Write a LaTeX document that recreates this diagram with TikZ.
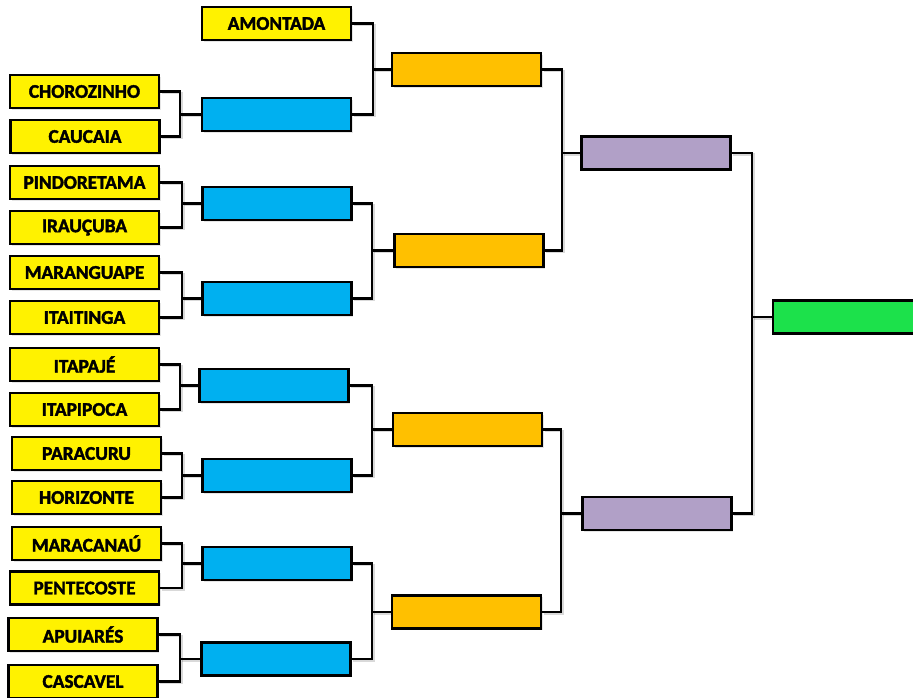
\documentclass[tikz,border=0pt]{standalone}
\usepackage{fontspec}
\setmainfont{Carlito}
\newfontfamily\heavy[BoldFeatures={FakeBold=2}]{Carlito}
\usetikzlibrary{shadows}
\newcommand\mybracket[4]{%
  \coordinate (fk) at (#4,0);
  \draw[connshadow] (#1.east) -- (#1.east -| fk) |- (#2.east);
  \draw[connshadow] (#3.west -| fk) -- (#3.west);
  \draw[conn] (#1.east) -- (#1.east -| fk) |- (#2.east);
  \draw[conn] (#3.west -| fk) -- (#3.west);
}
\begin{document}
\begin{tikzpicture}[x=1pt,y=-1pt,
  box/.style={draw=black, line width=2.2pt, minimum width=149pt, minimum height=33pt, inner sep=0pt,
    font=\heavy\fontsize{19.3}{21}\selectfont\bfseries,
    drop shadow={shadow xshift=1.5pt, shadow yshift=-1.5pt, opacity=0.2}},
  team/.style={box, fill=yellow},
  r1/.style={box, fill={rgb,255:red,0;green,176;blue,240}},
  r2/.style={box, fill={rgb,255:red,255;green,192;blue,0}},
  r3/.style={box, fill={rgb,255:red,177;green,160;blue,199}},
  r4/.style={box, fill={rgb,255:red,28;green,225;blue,75}, minimum width=160pt},
  conn/.style={draw=black, line width=2.2pt},
  connshadow/.style={draw=black, opacity=0.15, line width=2.2pt, transform canvas={xshift=1.5pt, yshift=-1.5pt}}
]
\clip (0,0) rectangle (913,697);
\useasboundingbox (0,0) rectangle (913,697);
\fill[white] (0,0) rectangle (913,697);

% teams
\node[team] (amontada) at (276.5,23.5) {AMONTADA};
\node[team] (choro) at (84.5,91.5) {CHOROZINHO};
\node[team] (caucaia) at (85,136.5) {CAUCAIA};
\node[team] (pind) at (84.5,182.5) {PINDORETAMA};
\node[team] (irau) at (84.5,227.5) {IRAUÇUBA};
\node[team] (marang) at (84.5,272.5) {MARANGUAPE};
\node[team] (itait) at (84.5,317.5) {ITAITINGA};
\node[team] (itapaje) at (84.5,364.5) {ITAPAJÉ};
\node[team] (itapip) at (84.5,409.5) {ITAPIPOCA};
\node[team] (paracuru) at (86.5,453.5) {PARACURU};
\node[team] (horiz) at (86.5,497.5) {HORIZONTE};
\node[team] (marac) at (86.5,543.5) {MARACANAÚ};
\node[team] (pent) at (84.5,588) {PENTECOSTE};
\node[team] (apu) at (83,634.5) {APUIARÉS};
\node[team] (casc) at (83,681.5) {CASCAVEL};

% round 1
\node[r1] (b1) at (276.5,114.5) {};
\node[r1] (b2) at (277,203.5) {};
\node[r1] (b3) at (277,298.5) {};
\node[r1] (b4) at (274,385.5) {};
\node[r1] (b5) at (277,475.5) {};
\node[r1] (b6) at (277,563.5) {};
\node[r1] (b7) at (276,659) {};

% round 2
\node[r2] (o1) at (466.5,69.5) {};
\node[r2] (o2) at (469,250.5) {};
\node[r2] (o3) at (467.5,429.5) {};
\node[r2] (o4) at (466.5,612) {};

% semis
\node[r3] (p1) at (656,153) {};
\node[r3] (p2) at (657,513.5) {};

% final
\node[r4] (g) at (853,317) {};

% connectors
\mybracket{choro}{caucaia}{b1}{180}
\mybracket{pind}{irau}{b2}{182}
\mybracket{marang}{itait}{b3}{182}
\mybracket{itapaje}{itapip}{b4}{180}
\mybracket{paracuru}{horiz}{b5}{182}
\mybracket{marac}{pent}{b6}{182}
\mybracket{apu}{casc}{b7}{180}
\mybracket{amontada}{b1}{o1}{373}
\mybracket{b2}{b3}{o2}{372}
\mybracket{b4}{b5}{o3}{372}
\mybracket{b6}{b7}{o4}{372}
\mybracket{o1}{o2}{p1}{562}
\mybracket{o3}{o4}{p2}{561}
\mybracket{p1}{p2}{g}{752}
\end{tikzpicture}
\end{document}
